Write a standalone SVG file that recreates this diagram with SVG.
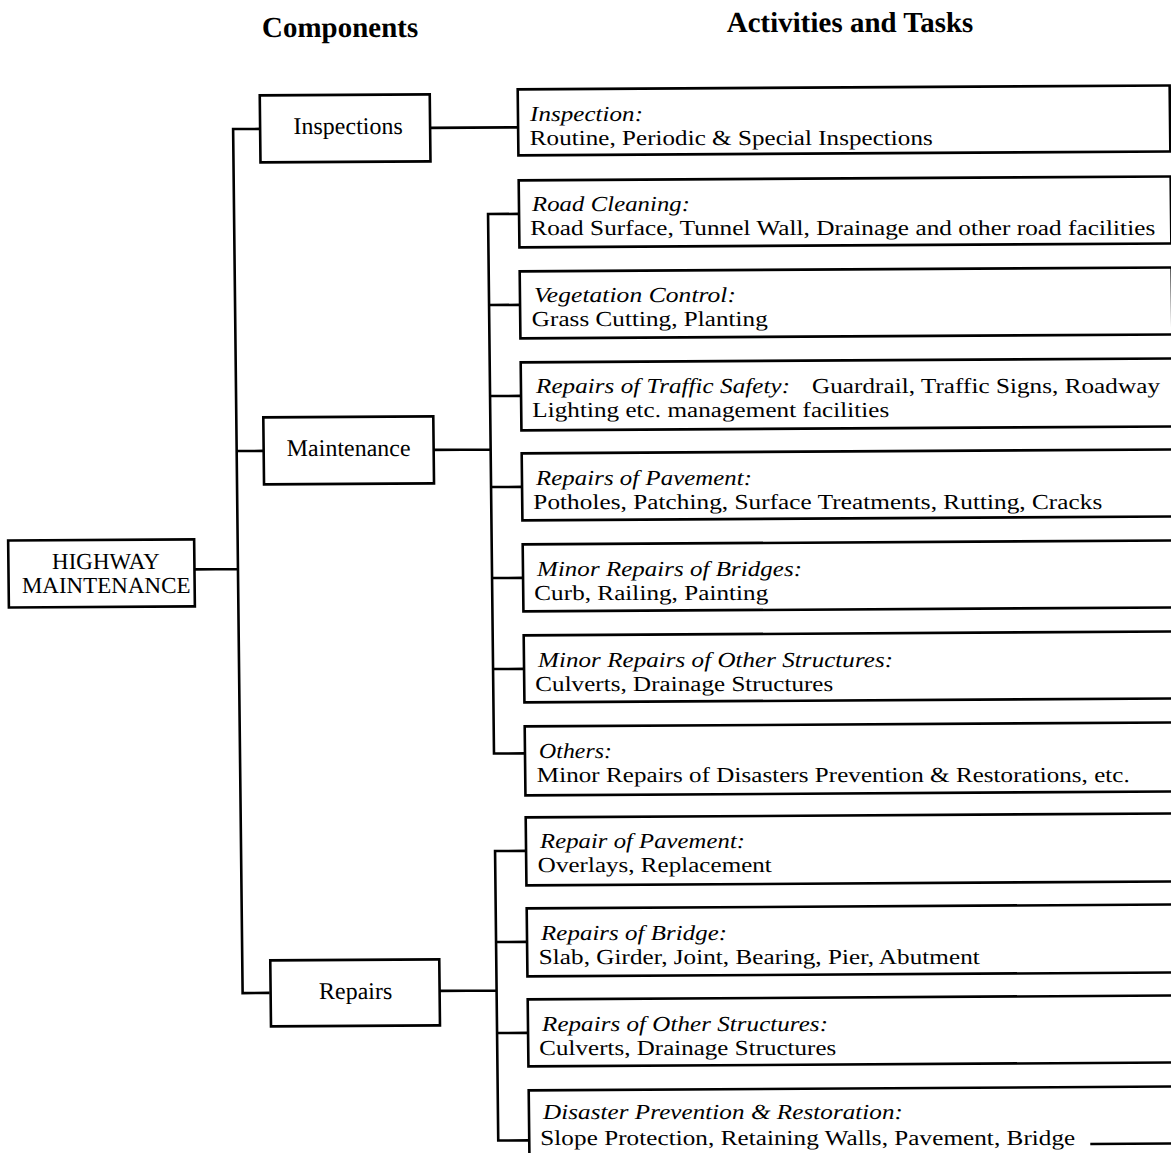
<svg xmlns="http://www.w3.org/2000/svg" width="1171" height="1153" viewBox="0 0 1171 1153">
<style>
.bx{fill:#fff;stroke:#000;stroke-width:2.6}
.ln{fill:none;stroke:#000;stroke-width:2.6}
.t{font-family:"Liberation Serif","Times New Roman",serif;font-size:21.4px;fill:#000}
.i{font-style:italic}
.n{font-family:"Liberation Serif","Times New Roman",serif;font-size:24px;fill:#000;text-anchor:middle}
.h{font-family:"Liberation Serif","Times New Roman",serif;font-size:29px;font-weight:bold;fill:#000;text-anchor:middle}
.r{font-family:"Liberation Serif","Times New Roman",serif;font-size:23px;fill:#000;text-anchor:middle}
</style>
<rect width="1171" height="1153" fill="#fff"/>
<g transform="matrix(1 0 0.011 1 -6.3 0)">
<g id="headers">
<text class="h" x="346" y="37">Components</text>
<text class="h" x="856" y="32.5">Activities and Tasks</text>
</g>
<g id="connectors" transform="matrix(1 -0.006 0 1 0 3.5)">
<path class="ln" d="M194 567H238M265 127H238V991H265M238 449H265"/>
<path class="ln" d="M435 127H523"/>
<path class="ln" d="M435 449H492M523 213.5H492V753H523M492 304.5H523M492 395.5H523M492 486.5H523M492 577.5H523M492 668.5H523"/>
<path class="ln" d="M435 990H492M523 850.5H492V1140H523M492 941.5H523M492 1032.5H523"/>
</g>
<g id="highway">
<rect class="bx" x="8.5" y="537" width="186" height="67" transform="matrix(1 -0.006 0 1 0 3.5)"/>
<text class="r" x="106" y="569">HIGHWAY</text>
<text class="r" x="106" y="593">MAINTENANCE</text>
</g>
<g id="inspections">
<rect class="bx" x="265" y="93.5" width="170" height="67" transform="matrix(1 -0.006 0 1 0 3.5)"/>
<text class="n" x="353" y="134.5">Inspections</text>
</g>
<g id="maintenance">
<rect class="bx" x="265" y="415.5" width="170" height="67" transform="matrix(1 -0.006 0 1 0 3.5)"/>
<text class="n" x="350" y="456.5">Maintenance</text>
</g>
<g id="repairs">
<rect class="bx" x="266" y="958.5" width="169" height="66" transform="matrix(1 -0.006 0 1 0 3.5)"/>
<text class="n" x="351" y="999.5">Repairs</text>
</g>
<g id="a1">
<rect class="bx" x="523" y="89" width="652" height="66" transform="matrix(1 -0.006 0 1 0 3.5)"/>
<text class="t i" x="535" y="121" textLength="113" lengthAdjust="spacingAndGlyphs">Inspection:</text>
<text class="t" x="534.5" y="145" textLength="403" lengthAdjust="spacingAndGlyphs">Routine, Periodic &amp; Special Inspections</text>
</g>
<g id="a2">
<rect class="bx" x="523" y="180" width="652" height="67" transform="matrix(1 -0.006 0 1 0 3.5)"/>
<text class="t i" x="536" y="211" textLength="158" lengthAdjust="spacingAndGlyphs">Road Cleaning:</text>
<text class="t" x="534" y="235" textLength="625" lengthAdjust="spacingAndGlyphs">Road Surface, Tunnel Wall, Drainage and other road facilities</text>
</g>
<g id="a3">
<rect class="bx" x="523" y="271" width="652" height="67" transform="matrix(1 -0.006 0 1 0 3.5)"/>
<text class="t i" x="537" y="302" textLength="202" lengthAdjust="spacingAndGlyphs">Vegetation Control:</text>
<text class="t" x="534.5" y="326" textLength="236" lengthAdjust="spacingAndGlyphs">Grass Cutting, Planting</text>
</g>
<g id="a4">
<rect class="bx" x="523" y="362" width="652" height="68" transform="matrix(1 -0.006 0 1 0 3.5)"/>
<text class="t i" x="538" y="393" textLength="254" lengthAdjust="spacingAndGlyphs">Repairs of Traffic Safety:</text>
<text class="t" x="814" y="393" textLength="348" lengthAdjust="spacingAndGlyphs">Guardrail, Traffic Signs, Roadway</text>
<text class="t" x="534" y="417" textLength="357" lengthAdjust="spacingAndGlyphs">Lighting etc. management facilities</text>
</g>
<g id="a5">
<rect class="bx" x="523" y="453" width="652" height="67" transform="matrix(1 -0.006 0 1 0 3.5)"/>
<text class="t i" x="537" y="485" textLength="216" lengthAdjust="spacingAndGlyphs">Repairs of Pavement:</text>
<text class="t" x="534" y="509" textLength="569" lengthAdjust="spacingAndGlyphs">Potholes, Patching, Surface Treatments, Rutting, Cracks</text>
</g>
<g id="a6">
<rect class="bx" x="523" y="544" width="652" height="67" transform="matrix(1 -0.006 0 1 0 3.5)"/>
<text class="t i" x="537" y="576" textLength="265" lengthAdjust="spacingAndGlyphs">Minor Repairs of Bridges:</text>
<text class="t" x="534" y="600" textLength="234" lengthAdjust="spacingAndGlyphs">Curb, Railing, Painting</text>
</g>
<g id="a7">
<rect class="bx" x="523" y="635" width="652" height="67" transform="matrix(1 -0.006 0 1 0 3.5)"/>
<text class="t i" x="537" y="667" textLength="355" lengthAdjust="spacingAndGlyphs">Minor Repairs of Other Structures:</text>
<text class="t" x="534" y="691" textLength="298" lengthAdjust="spacingAndGlyphs">Culverts, Drainage Structures</text>
</g>
<g id="a8">
<rect class="bx" x="523" y="726" width="652" height="69" transform="matrix(1 -0.006 0 1 0 3.5)"/>
<text class="t i" x="537" y="758" textLength="73" lengthAdjust="spacingAndGlyphs">Others:</text>
<text class="t" x="534.5" y="782" textLength="593" lengthAdjust="spacingAndGlyphs">Minor Repairs of Disasters Prevention &amp; Restorations, etc.</text>
</g>
<g id="a9">
<rect class="bx" x="523" y="817" width="652" height="68" transform="matrix(1 -0.006 0 1 0 3.5)"/>
<text class="t i" x="537" y="848" textLength="205" lengthAdjust="spacingAndGlyphs">Repair of Pavement:</text>
<text class="t" x="534.5" y="872" textLength="234" lengthAdjust="spacingAndGlyphs">Overlays, Replacement</text>
</g>
<g id="a10">
<rect class="bx" x="523" y="908" width="652" height="68" transform="matrix(1 -0.006 0 1 0 3.5)"/>
<text class="t i" x="537" y="940" textLength="186" lengthAdjust="spacingAndGlyphs">Repairs of Bridge:</text>
<text class="t" x="534.5" y="964" textLength="441" lengthAdjust="spacingAndGlyphs">Slab, Girder, Joint, Bearing, Pier, Abutment</text>
</g>
<g id="a11">
<rect class="bx" x="523" y="999" width="652" height="67" transform="matrix(1 -0.006 0 1 0 3.5)"/>
<text class="t i" x="537" y="1031" textLength="286" lengthAdjust="spacingAndGlyphs">Repairs of Other Structures:</text>
<text class="t" x="534" y="1055" textLength="297" lengthAdjust="spacingAndGlyphs">Culverts, Drainage Structures</text>
</g>
<g id="a12">
<path class="bx" d="M523 1160V1090H1175V1147H1084" transform="matrix(1 -0.006 0 1 0 3.5)"/>
<text class="t i" x="537" y="1119" textLength="360" lengthAdjust="spacingAndGlyphs">Disaster Prevention &amp; Restoration:</text>
<text class="t" x="534" y="1145" textLength="535" lengthAdjust="spacingAndGlyphs">Slope Protection, Retaining Walls, Pavement, Bridge</text>
</g>
</g>
</svg>
